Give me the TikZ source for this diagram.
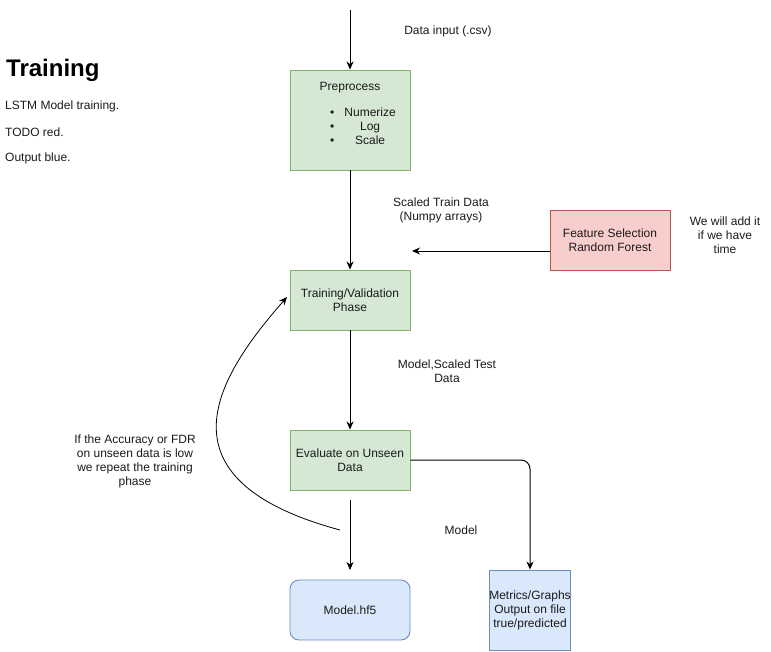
\documentclass[tikz,border=0pt]{standalone}
\usepackage{fontspec}
\setmainfont{Liberation Sans}
\usetikzlibrary{arrows.meta}

\definecolor{greenfill}{HTML}{D5E8D4}
\definecolor{greenline}{HTML}{82B366}
\definecolor{redfill}{HTML}{F8CECC}
\definecolor{redline}{HTML}{B85450}
\definecolor{bluefill}{HTML}{DAE8FC}
\definecolor{blueline}{HTML}{6C8EBF}
\definecolor{ink}{HTML}{1A1A1A}

\tikzset{
  x=1pt, y=-1pt,
  every node/.style={font=\fontsize{12}{14}\selectfont, text=ink},
  txt/.style={inner sep=0pt, align=center},
  lefttxt/.style={inner sep=0pt, anchor=west, align=left},
  box/.style={draw, line width=0.9pt, minimum width=120pt, minimum height=60pt,
              inner sep=0pt, align=center},
  greenbox/.style={box, fill=greenfill, draw=greenline},
  redbox/.style={box, fill=redfill, draw=redline},
  bluebox/.style={box, fill=bluefill, draw=blueline},
  flow/.style={draw=black, line width=1pt,
               -{Stealth[length=8pt,width=7pt,inset=2.5pt]}},
}

\begin{document}
\begin{tikzpicture}
  \useasboundingbox (0,0) rectangle (771,651);

  % heading and notes
  \node[lefttxt, font=\fontsize{24}{27}\selectfont\bfseries, text=black] (title) at (6,70) {Training};
  \node[lefttxt] (note1) at (5,106) {LSTM Model training.};
  \node[lefttxt] (note2) at (5,132) {TODO red.};
  \node[lefttxt] (note3) at (5,158) {Output blue.};

  % process boxes
  \node[greenbox, minimum height=100pt] (pre) at (350,120) {};
  \node[txt] (pretitle) at (350,88) {Preprocess};
  \node[txt] (prelist) at (363,128)
    {\begin{tabular}{@{}c@{\hspace{10pt}}c@{}}
       \textbullet & Numerize\\
       \textbullet & Log\\
       \textbullet & Scale
     \end{tabular}};

  \node[greenbox] (trn) at (350,300) {Training/Validation\\Phase};
  \node[redbox] (fs) at (610,240) {Feature Selection\\Random Forest};
  \node[greenbox] (ev) at (350,460) {Evaluate on Unseen\\Data};
  \node[bluebox, rounded corners=9pt] (mdl) at (350,610) {Model.hf5};
  \node[bluebox, minimum width=80pt, minimum height=80pt] (met) at (530,610)
    {Metrics/Graphs\\Output on file\\true/predicted};

  % edge labels and side notes
  \node[txt] (lblin) at (448,31) {Data input (.csv)};
  \node[txt] (lbltrain) at (441,210) {Scaled Train Data\\(Numpy arrays)};
  \node[txt] (lblfs) at (725,235) {We will add it\\if we have\\time};
  \node[txt] (lbltest) at (447,371) {Model,Scaled Test\\Data};
  \node[txt] (lblloop) at (135,461) {If the Accuracy or FDR\\on unseen data is low\\we repeat the training\\phase};
  \node[txt] (lblmodel) at (461,530) {Model};

  % free ends of connectors
  \coordinate (src) at (350,10);
  \coordinate (fsend) at (412,251);
  \coordinate (evgap) at (350,500);
  \coordinate (mdltip) at (350,570);
  \coordinate (loopstart) at (340,530);
  \coordinate (looptip) at (287,297);

  % connectors
  \draw[flow] (src) -- (pre.north);
  \draw[flow] (pre.south) -- (trn.north);
  \draw[flow] (fs.west |- fsend) -- (fsend);
  \draw[flow] (trn.south) -- (ev.north);
  \draw[flow, rounded corners=9pt] (ev.east) -| (met.north);
  \draw[flow] (evgap) -- (mdltip);
  \draw[flow, line width=0.8pt] (loopstart) .. controls (149,478.5) and (220,373.5) .. (looptip);
\end{tikzpicture}
\end{document}
